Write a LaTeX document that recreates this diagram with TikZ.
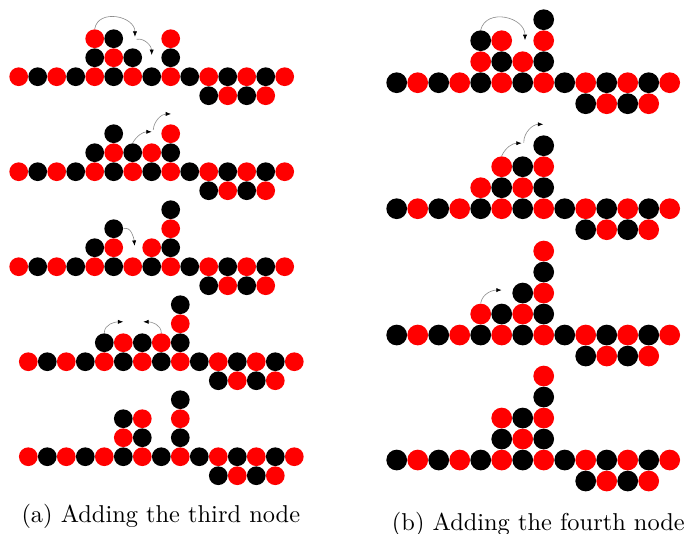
\documentclass[tikz,border=0pt]{standalone}
\usetikzlibrary{arrows.meta}
\tikzset{
  circ/.style={circle, inner sep=0pt, draw=none},
  rd/.style={circ, fill=red},
  bk/.style={circ, fill=black},
  mv/.style={draw=black!45, line width=0.25pt, -{Latex[length=2.2pt,width=1.7pt,color=black]}},
  captext/.style={anchor=base, inner sep=0pt, font=\fontsize{10}{12}\selectfont},
  lpanel/.style={x=7.79pt, y=7.79pt, every node/.append style={minimum size=7.67pt}},
  rpanel/.style={x=8.61pt, y=8.61pt, every node/.append style={minimum size=8.49pt}},
}
\newcommand\leftbase[1]{%
  \foreach \i in {0,2,...,14} {\node[rd] (#1m\i) at (\i,0) {};}
  \foreach \i in {1,3,...,13} {\node[bk] (#1m\i) at (\i,0) {};}
  \node[bk] (#1b10) at (10,-1) {};
  \node[rd] (#1b11) at (11,-1) {};
  \node[bk] (#1b12) at (12,-1) {};
  \node[rd] (#1b13) at (13,-1) {};
}
\newcommand\rightbase[1]{%
  \foreach \i in {0,2,...,12} {\node[bk] (#1m\i) at (\i,0) {};}
  \foreach \i in {1,3,...,13} {\node[rd] (#1m\i) at (\i,0) {};}
  \node[bk] (#1b9) at (9,-1) {};
  \node[rd] (#1b10) at (10,-1) {};
  \node[bk] (#1b11) at (11,-1) {};
  \node[rd] (#1b12) at (12,-1) {};
}
\newcommand\cR[3]{\node[rd] (#1x#2#3) at (#2,#3) {};}
\newcommand\cB[3]{\node[bk] (#1x#2#3) at (#2,#3) {};}
\begin{document}
\begin{tikzpicture}[x=0.41pt, y=-0.41pt]
\useasboundingbox (0,0) rectangle (688,533);

% ---------- (a) ----------
\begin{scope}[shift={(18.7,76.7)}, lpanel]
  \leftbase{A1}
  \cB{A1}{4}{1} \cR{A1}{5}{1} \cB{A1}{6}{1} \cB{A1}{8}{1}
  \cR{A1}{4}{2} \cB{A1}{5}{2} \cR{A1}{8}{2}
  \coordinate (A1e1) at (6.12,2.1);
  \coordinate (A1s2) at (6.21,1.97);
  \coordinate (A1e2) at (7.0,1.14);
  \draw[mv] (A1x42.north) to[out=80,in=90,looseness=1.3] (A1e1);
  \draw[mv] (A1s2) to[out=10,in=90] (A1e2);
\end{scope}

\begin{scope}[shift={(18.7,171.7)}, lpanel]
  \leftbase{A2}
  \cB{A2}{4}{1} \cR{A2}{5}{1} \cB{A2}{6}{1} \cR{A2}{7}{1} \cB{A2}{8}{1}
  \cB{A2}{5}{2} \cR{A2}{8}{2}
  \coordinate (A2e1) at (7.0,2.1);
  \coordinate (A2s2) at (7.08,2.2);
  \coordinate (A2e2) at (8.02,3.04);
  \draw[mv] (A2x61.north) to[out=60,in=180] (A2e1);
  \draw[mv] (A2s2) to[out=85,in=180] (A2e2);
\end{scope}

\begin{scope}[shift={(18.7,266.7)}, lpanel]
  \leftbase{A3}
  \cB{A3}{4}{1} \cR{A3}{5}{1} \cR{A3}{7}{1} \cB{A3}{8}{1}
  \cB{A3}{5}{2} \cR{A3}{8}{2} \cB{A3}{8}{3}
  \coordinate (A3e1) at (6.1,1.1);
  \draw[mv] (A3x52.east) to[out=20,in=95] (A3e1);
\end{scope}

\begin{scope}[shift={(28.3,361.7)}, lpanel]
  \leftbase{A4}
  \cB{A4}{4}{1} \cR{A4}{5}{1} \cB{A4}{6}{1} \cR{A4}{7}{1} \cB{A4}{8}{1}
  \cR{A4}{8}{2} \cB{A4}{8}{3}
  \coordinate (A4e1) at (5.0,2.1);
  \coordinate (A4e2) at (6.05,2.1);
  \draw[mv] (A4x41.north) to[out=90,in=180] (A4e1);
  \draw[mv] (A4x71.north) to[out=90,in=0] (A4e2);
\end{scope}

\begin{scope}[shift={(28.3,456.7)}, lpanel]
  \leftbase{A5}
  \cR{A5}{5}{1} \cB{A5}{6}{1} \cB{A5}{8}{1}
  \cB{A5}{5}{2} \cR{A5}{6}{2} \cR{A5}{8}{2} \cB{A5}{8}{3}
\end{scope}

% ---------- (b) ----------
\begin{scope}[shift={(396.7,82.7)}, rpanel]
  \rightbase{B1}
  \cR{B1}{4}{1} \cB{B1}{5}{1} \cR{B1}{6}{1} \cB{B1}{7}{1}
  \cB{B1}{4}{2} \cR{B1}{5}{2} \cR{B1}{7}{2} \cB{B1}{7}{3}
  \coordinate (B1e1) at (6.11,2.03);
  \draw[mv] (B1x42.north) to[out=75,in=90,looseness=1.3] (B1e1);
\end{scope}

\begin{scope}[shift={(396.7,208.7)}, rpanel]
  \rightbase{B2}
  \cR{B2}{4}{1} \cB{B2}{5}{1} \cR{B2}{6}{1} \cB{B2}{7}{1}
  \cR{B2}{5}{2} \cB{B2}{6}{2} \cR{B2}{7}{2} \cB{B2}{7}{3}
  \coordinate (B2e1) at (5.95,3.12);
  \coordinate (B2s2) at (6.05,3.15);
  \coordinate (B2e2) at (6.98,4.02);
  \draw[mv] (B2x52.north) to[out=65,in=180] (B2e1);
  \draw[mv] (B2s2) to[out=90,in=180] (B2e2);
\end{scope}

\begin{scope}[shift={(396.7,335)}, rpanel]
  \rightbase{B3}
  \cR{B3}{4}{1} \cB{B3}{5}{1} \cR{B3}{6}{1} \cB{B3}{7}{1}
  \cB{B3}{6}{2} \cR{B3}{7}{2} \cB{B3}{7}{3} \cR{B3}{7}{4}
  \coordinate (B3e1) at (5.0,2.14);
  \draw[mv] (B3x41.north) to[out=80,in=180] (B3e1);
\end{scope}

\begin{scope}[shift={(396.7,460)}, rpanel]
  \rightbase{B4}
  \cB{B4}{5}{1} \cR{B4}{6}{1} \cB{B4}{7}{1}
  \cR{B4}{5}{2} \cB{B4}{6}{2} \cR{B4}{7}{2} \cB{B4}{7}{3} \cR{B4}{7}{4}
\end{scope}

\node[captext] (capa) at (160.8,522.5) {(a) Adding the third node};
\node[captext] (capb) at (538.4,530) {(b) Adding the fourth node};
\end{tikzpicture}
\end{document}
